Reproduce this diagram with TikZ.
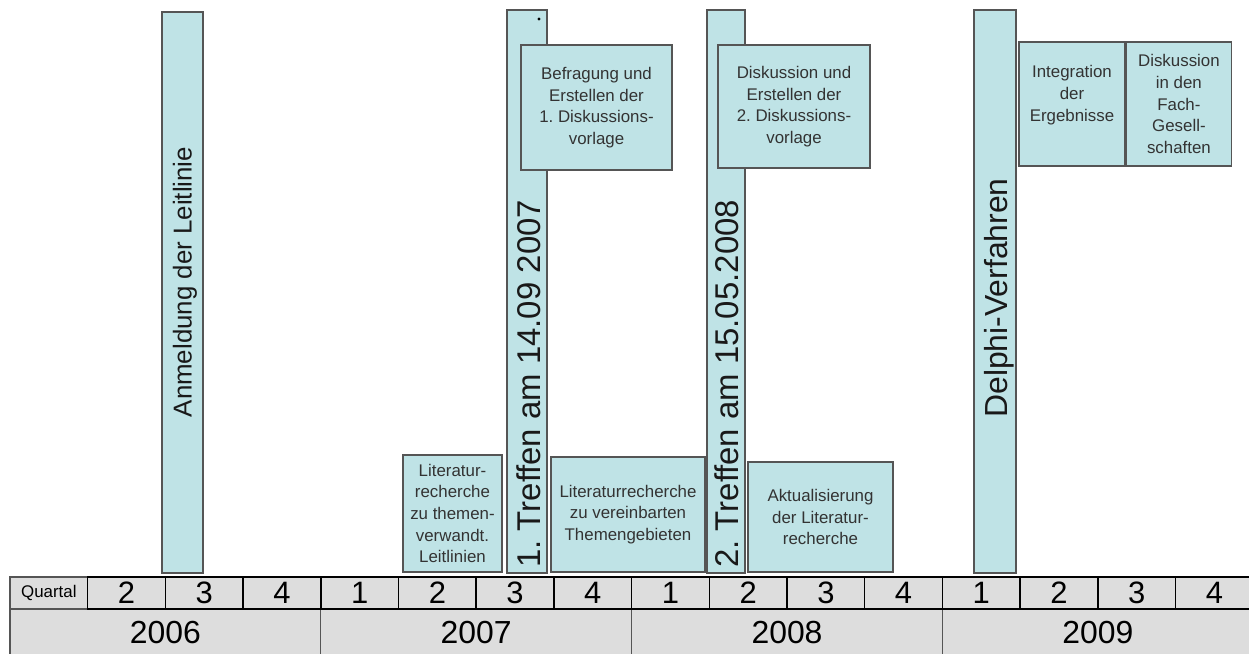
\documentclass[tikz,border=0pt]{standalone}
\usepackage{fontspec}
\setmainfont{Liberation Sans}
\usetikzlibrary{positioning}
\definecolor{tlcyan}{HTML}{BFE3E6}
\definecolor{tlgray}{HTML}{DDDDDD}
\definecolor{tledge}{HTML}{555555}
\definecolor{tltext}{HTML}{333333}
\newcommand{\pxl}{0.025cm}

\begin{document}
\frenchspacing
\begin{tikzpicture}[x=0.025cm, y=-0.025cm,
        bar/.style={draw=tledge, fill=tlcyan, line width=1pt, inner sep=0pt},
        box/.style={draw=tledge, fill=tlcyan, line width=1pt, text=tltext, align=center,
          inner sep=0pt, font=\fontsize{12}{15.4}\selectfont},
        boxtext/.style={text=tltext, align=center, inner sep=0pt, font=\fontsize{12}{15.4}\selectfont},
        vlabel/.style={rotate=90, inner sep=0pt, text=black!90},
        qcell/.style={draw=black, fill=tlgray, line width=1.1pt, inner sep=0pt,
          minimum width=77.7*\pxl, minimum height=32*\pxl, font=\fontsize{22}{22}\selectfont},
        ycell/.style={draw=tledge, fill=tlgray, line width=0.9pt, inner sep=0pt,
          minimum width=310.8*\pxl, minimum height=47*\pxl, font=\fontsize{22.7}{22.7}\selectfont}]
        \clip (0,0) rectangle (1249,653);
        \fill[white] (0,0) rectangle (1249,653);
        % time axis
        \foreach \yr [count=\i from 0] in {2006,2007,2008,2009}
          \node[ycell] (y\yr) at ({10+310.8*\i+155.4}, 632.5) {\yr};
        \node[qcell, draw=tledge, font=\fontsize{12}{12}\selectfont] (q0) at (48.85, 593) {Quartal};
        \foreach \q [count=\i] in {2,3,4,1,2,3,4,1,2,3,4,1,2,3,4}
          \node[qcell] (q\i) at ({10+77.7*\i+38.85}, 593) {\q};
        % vertical bars
        \node[bar, minimum width=41*\pxl, minimum height=561*\pxl] (anm) at (182.5, 292.5) {};
        \node[bar, minimum width=40*\pxl, minimum height=563*\pxl] (t1) at (527, 291.5) {};
        \node[bar, minimum width=38*\pxl, minimum height=563*\pxl] (t2) at (726, 291.5) {};
        \node[bar, minimum width=42*\pxl, minimum height=563*\pxl] (delphi) at (995, 291.5) {};
        \node[fill=black, circle, inner sep=0.8pt] (dot) at (539, 19) {};
        \node[vlabel, font=\fontsize{18.4}{18.4}\selectfont] (anmtxt) at (185, 282) {Anmeldung der Leitlinie};
        \node[vlabel, anchor=west, font=\fontsize{23.4}{23.4}\selectfont] (t1txt) at (529, 568) {1. Treffen am 14.09 2007};
        \node[vlabel, anchor=west, font=\fontsize{23.4}{23.4}\selectfont] (t2txt) at (727, 568) {2. Treffen am 15.05.2008};
        \node[vlabel, font=\fontsize{22.7}{22.7}\selectfont] (delphitxt) at (999, 298) {Delphi-Verfahren};
        % work packages
        \node[box, minimum width=99*\pxl, minimum height=117*\pxl] (lit1) at (452.5, 513.5)
          {Literatur-\\recherche\\zu themen-\\verwandt.\\Leitlinien};
        \node[box, minimum width=154*\pxl, minimum height=115*\pxl] (lit2) at (628, 514.5)
          {Literaturrecherche\\zu vereinbarten\\Themengebieten};
        \node[box, minimum width=145*\pxl, minimum height=110*\pxl] (aktual) at (820.5, 517)
          {Aktualisierung\\der Literatur-\\recherche};
        \node[box, minimum width=151*\pxl, minimum height=125*\pxl] (befrag) at (596.5, 107.5)
          {Befragung und\\Erstellen der\\1. Diskussions-\\vorlage};
        \node[box, minimum width=152*\pxl, minimum height=123*\pxl] (disk2) at (794, 106.5)
          {Diskussion und\\Erstellen der\\2. Diskussions-\\vorlage};
        \node[box, minimum width=106*\pxl, minimum height=124*\pxl] (integ) at (1072, 104) {};
        \node[boxtext] (integtxt) at (1072, 95) {Integration\\der\\Ergebnisse};
        \node[box, minimum width=105*\pxl, minimum height=124*\pxl, right=0pt of integ] (fach)
          {Diskussion\\in den\\Fach-\\Gesell-\\schaften};
      \end{tikzpicture}
\end{document}
